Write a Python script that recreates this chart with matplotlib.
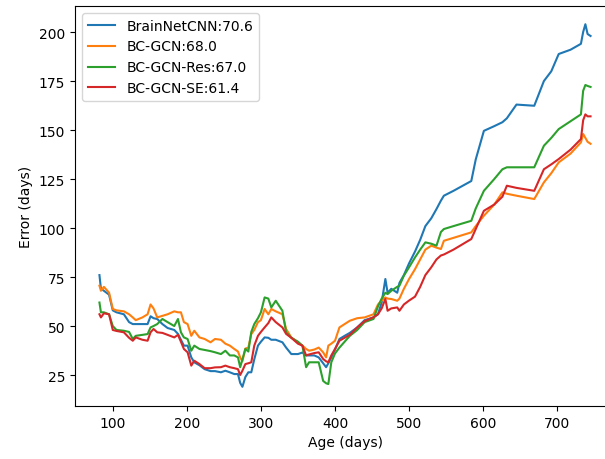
import matplotlib
matplotlib.use("Agg")
import matplotlib.pyplot as plt

ages = [82, 84, 88, 95, 100, 105, 115, 122, 127, 131, 140, 147, 151, 155, 160, 167, 174, 183, 188, 192,
        196, 201, 206, 210, 217, 224, 232, 238, 246, 252, 258, 264, 269, 272, 275, 279, 283, 287, 291, 296,
        300, 305, 310, 314, 320, 329, 334, 341, 350, 356, 361, 365, 372, 378, 384, 388, 391, 395, 400, 406,
        413, 420, 430, 440, 452, 458, 463, 468, 471, 476, 484, 487, 493, 500, 508, 515, 522, 530, 537, 543,
        547, 560, 584, 590, 601, 615, 626, 632, 645, 669, 682, 692, 702, 718, 732, 735, 738, 741, 745]

brainnetcnn = [76, 69, 68, 66, 58, 57, 56, 52, 51, 51, 51, 51, 55, 54, 53.6, 51, 49, 48, 46, 43,
               40, 40, 34, 31.5, 30, 28, 27, 27, 26.4, 27.2, 26.4, 25.5, 25.5, 21, 19, 24, 26.4, 26.4, 33, 40,
               42, 44.2, 44, 43, 43, 41.7, 39, 35.7, 35.7, 36.5, 35, 35, 35, 34, 31, 29, 31, 34, 38, 43.4,
               45, 46.5, 49.3, 53, 54.4, 56, 62, 74, 67, 69, 67, 72, 76, 82, 88, 94, 101, 105, 109.7, 114,
               116.5, 119, 124, 135, 149.6, 152, 154, 156, 163, 162.4, 175, 180, 188.8, 191, 194, 200, 204, 199, 198]

bc_gcn = [70.6, 68, 70, 67, 58.7, 58, 57.5, 56, 54.4, 53, 54.4, 56, 61, 59, 54.4, 55.2, 56, 57.5, 57, 57,
          52, 51, 45, 47.6, 44.2, 43.4, 41.7, 43.4, 43, 41, 40, 38.3, 37, 34, 32, 38.5, 39, 45.9, 48, 52,
          53, 58.7, 56, 58.7, 57.5, 56, 48.5, 44.2, 41.7, 40, 38.3, 37.4, 38, 39, 36.6, 34, 40, 41, 42.5, 49.3,
          51, 52.7, 54, 54.4, 56, 61, 63, 64.6, 64, 63.8, 62.9, 64, 69, 74, 79, 84, 89, 91, 90, 89.3,
          93.5, 95, 97.8, 101, 106.3, 112, 118.2, 117.5, 116.5, 114.8, 123.3, 128, 133.5, 138, 143.7, 148, 146, 144, 143]

bc_gcn_res = [62, 57, 57, 56, 50, 48, 47.6, 47, 43.4, 45, 45.5, 45.9, 49.3, 50, 51, 53.6, 52, 50, 53.6, 46.8,
              44.2, 43.4, 37.4, 40, 38.3, 37.8, 37.2, 36.6, 35.7, 37.4, 35, 35, 34, 29, 33, 38.3, 37, 47, 51, 54,
              57, 64.6, 64, 59.5, 62.9, 57.8, 46.8, 44, 42, 40, 29, 31.5, 31.5, 31.5, 22, 20.8, 20.4, 31.5, 36, 39,
              42, 45, 48, 52, 53.6, 60, 64, 67, 66.3, 68, 70, 70.6, 75.7, 80, 85, 89, 92.7, 92, 91, 98,
              99.5, 101, 103.7, 110, 119, 125, 130, 131, 131, 131, 142, 146, 150.5, 154.5, 158, 170, 173, 172.5, 172]

bc_gcn_se = [56, 54.4, 56.5, 56, 48, 47.5, 46.8, 44, 42.5, 44.2, 43, 42.5, 46.8, 48.5, 46.8, 46.5, 45.5, 44.2, 45.5, 42,
             38.3, 36.6, 29.8, 32.3, 30.6, 28.5, 28.5, 28.9, 29, 29.8, 29, 28.5, 28, 25, 27.2, 30.6, 31, 31.5, 40, 45,
             47, 49.3, 51.5, 54.4, 52, 49.3, 46, 44, 41, 40, 35, 35.5, 36.2, 36.6, 33.2, 32, 31.5, 35, 38.3, 42.5,
             44, 45.5, 49.3, 52.5, 54.5, 56, 59, 63.8, 57.8, 59, 59.5, 57.8, 61, 63, 65, 70, 76, 80, 84, 86,
             86.5, 89, 94.4, 99.5, 108.8, 112, 116, 121.6, 120.5, 119, 130, 132.5, 135.2, 140, 145.4, 155, 158, 157, 157]

series = [("BrainNetCNN:70.6", brainnetcnn),
          ("BC-GCN:68.0", bc_gcn),
          ("BC-GCN-Res:67.0", bc_gcn_res),
          ("BC-GCN-SE:61.4", bc_gcn_se)]

fig = plt.figure(figsize=(6.05, 4.6), dpi=100)
ax = fig.add_axes([75 / 605, 53 / 460, 540 / 605, 400 / 460])
for label, vals in series:
    ax.plot(ages, vals, label=label, linewidth=1.5)

ax.set_xlim(49, 778)
ax.set_ylim(9.2, 213.3)
ax.set_xticks([100, 200, 300, 400, 500, 600, 700])
ax.set_yticks([25, 50, 75, 100, 125, 150, 175, 200])
ax.set_xlabel("Age (days)")
ax.set_ylabel("Error (days)")
ax.legend(loc="upper left")
fig.savefig("out.png", dpi=100)
